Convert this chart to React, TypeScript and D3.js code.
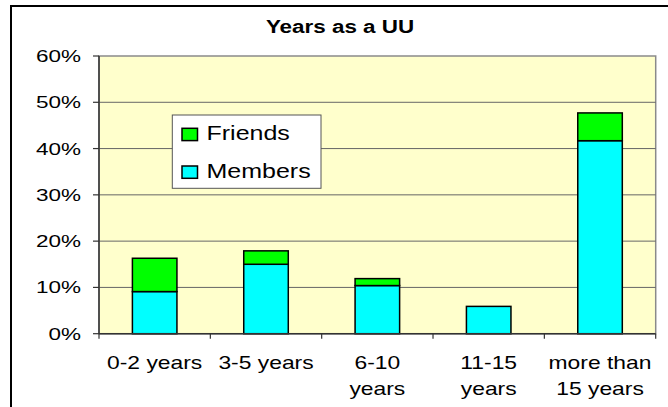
import React, { useEffect, useRef } from "react";
import * as d3 from "d3";

const WIDTH = 668;
const HEIGHT = 407;

// data (percent)
const categories = ["0-2 years", "3-5 years", "6-10 years", "11-15 years", "more than 15 years"];
const categoryLines = [["0-2 years"], ["3-5 years"], ["6-10", "years"], ["11-15", "years"], ["more than", "15 years"]];
const members = [9.1, 15.0, 10.4, 5.9, 41.7];
const friends = [7.2, 2.9, 1.5, 0, 6.0];
const yTicks = [0, 10, 20, 30, 40, 50, 60];
const seriesNames = ["Members", "Friends"];
const seriesColors = { Members: "#00FFFF", Friends: "#00FF00" };

const FONT = "Arial, 'Liberation Sans', sans-serif";

const App = () => {
  const ref = useRef<SVGSVGElement>(null);

  useEffect(() => {
    const svg = d3.select(ref.current);
    svg.selectAll("*").remove();

    const plot = { left: 99, top: 56, right: 655.7, bottom: 333.7 };

    // outer chart border (runs off the picture to the right and bottom)
    svg.append("rect")
      .attr("x", 11).attr("y", 6)
      .attr("width", 700).attr("height", 450)
      .attr("fill", "white")
      .attr("stroke", "black")
      .attr("stroke-width", 2);

    const x = d3.scaleBand().domain(categories).range([plot.left, plot.right]).paddingInner(0.6).paddingOuter(0.3);
    const y = d3.scaleLinear().domain([0, 60]).range([plot.bottom, plot.top]);

    // plot area
    svg.append("rect")
      .attr("x", plot.left).attr("y", plot.top)
      .attr("width", plot.right - plot.left).attr("height", plot.bottom - plot.top)
      .attr("fill", "#FFFFCC")
      .attr("stroke", "#8a8a8a")
      .attr("stroke-width", 1.5);

    // gridlines
    svg.append("g").selectAll("line")
      .data(yTicks.filter(t => t > 0 && t < 60))
      .join("line")
      .attr("x1", plot.left).attr("x2", plot.right)
      .attr("y1", d => y(d)).attr("y2", d => y(d))
      .attr("stroke", "#666").attr("stroke-width", 1);

    // stacked bars
    const table = categories.map((c, i) => ({ cat: c, Members: members[i], Friends: friends[i] }));
    const stacked = d3.stack<any>().keys(seriesNames)(table);
    stacked.forEach(layer => {
      svg.append("g").selectAll("rect")
        .data(layer.filter(d => d[1] - d[0] > 0))
        .join("rect")
        .attr("x", d => x(d.data.cat)!)
        .attr("width", x.bandwidth())
        .attr("y", d => y(d[1]))
        .attr("height", d => y(d[0]) - y(d[1]))
        .attr("fill", seriesColors[layer.key])
        .attr("stroke", "black")
        .attr("stroke-width", 1.5);
    });

    // axes
    const axisColor = "#333";
    svg.append("line")
      .attr("x1", plot.left).attr("x2", plot.left)
      .attr("y1", plot.top).attr("y2", plot.bottom)
      .attr("stroke", axisColor).attr("stroke-width", 1.5);
    svg.append("line")
      .attr("x1", plot.left).attr("x2", plot.right)
      .attr("y1", plot.bottom).attr("y2", plot.bottom)
      .attr("stroke", axisColor).attr("stroke-width", 1.5);

    svg.append("g").selectAll("line")
      .data(yTicks)
      .join("line")
      .attr("x1", plot.left - 6).attr("x2", plot.left)
      .attr("y1", d => y(d)).attr("y2", d => y(d))
      .attr("stroke", axisColor).attr("stroke-width", 1.2);

    const step = x.step();
    svg.append("g").selectAll("line")
      .data(d3.range(categories.length + 1))
      .join("line")
      .attr("x1", d => plot.left + d * step).attr("x2", d => plot.left + d * step)
      .attr("y1", plot.bottom).attr("y2", plot.bottom + 5)
      .attr("stroke", axisColor).attr("stroke-width", 1.2);

    // y tick labels
    svg.append("g").selectAll("text")
      .data(yTicks)
      .join("text")
      .attr("transform", d => `translate(81,${y(d) + 6}) scale(1.38,1)`)
      .attr("text-anchor", "end")
      .attr("font-family", FONT)
      .attr("font-size", 16.3)
      .attr("fill", "black")
      .text(d => d + "%");

    // category labels
    categories.forEach((c, i) => {
      const cx = x(c)! + x.bandwidth() / 2;
      categoryLines[i].forEach((line, j) => {
        svg.append("text")
          .attr("transform", `translate(${cx},${369 + j * 26}) scale(1.27,1)`)
          .attr("text-anchor", "middle")
          .attr("font-family", FONT)
          .attr("font-size", 18)
          .attr("fill", "black")
          .text(line);
      });
    });

    // title
    svg.append("text")
      .attr("transform", "translate(340,33) scale(1.18,1)")
      .attr("text-anchor", "middle")
      .attr("font-family", FONT)
      .attr("font-weight", "bold")
      .attr("font-size", 19)
      .attr("fill", "black")
      .text("Years as a UU");

    // legend
    const legend = svg.append("g");
    legend.append("rect")
      .attr("x", 172.3).attr("y", 115)
      .attr("width", 148.7).attr("height", 73.3)
      .attr("fill", "white")
      .attr("stroke", "#555")
      .attr("stroke-width", 1);
    ["Friends", "Members"].forEach((name, i) => {
      const top = 128.3 + i * 37.7;
      legend.append("rect")
        .attr("x", 182).attr("y", top)
        .attr("width", 15.5).attr("height", 12.3)
        .attr("fill", seriesColors[name])
        .attr("stroke", "black")
        .attr("stroke-width", 1.5);
      legend.append("text")
        .attr("transform", `translate(206.5,${top + 12}) scale(1.19,1)`)
        .attr("font-family", FONT)
        .attr("font-size", 21)
        .attr("fill", "black")
        .text(name);
    });
  }, []);

  return (
    <svg
      ref={ref}
      width={WIDTH}
      height={HEIGHT}
      style={{ position: "absolute", left: 0, top: 0, background: "white" }}
    />
  );
};

export default App;
